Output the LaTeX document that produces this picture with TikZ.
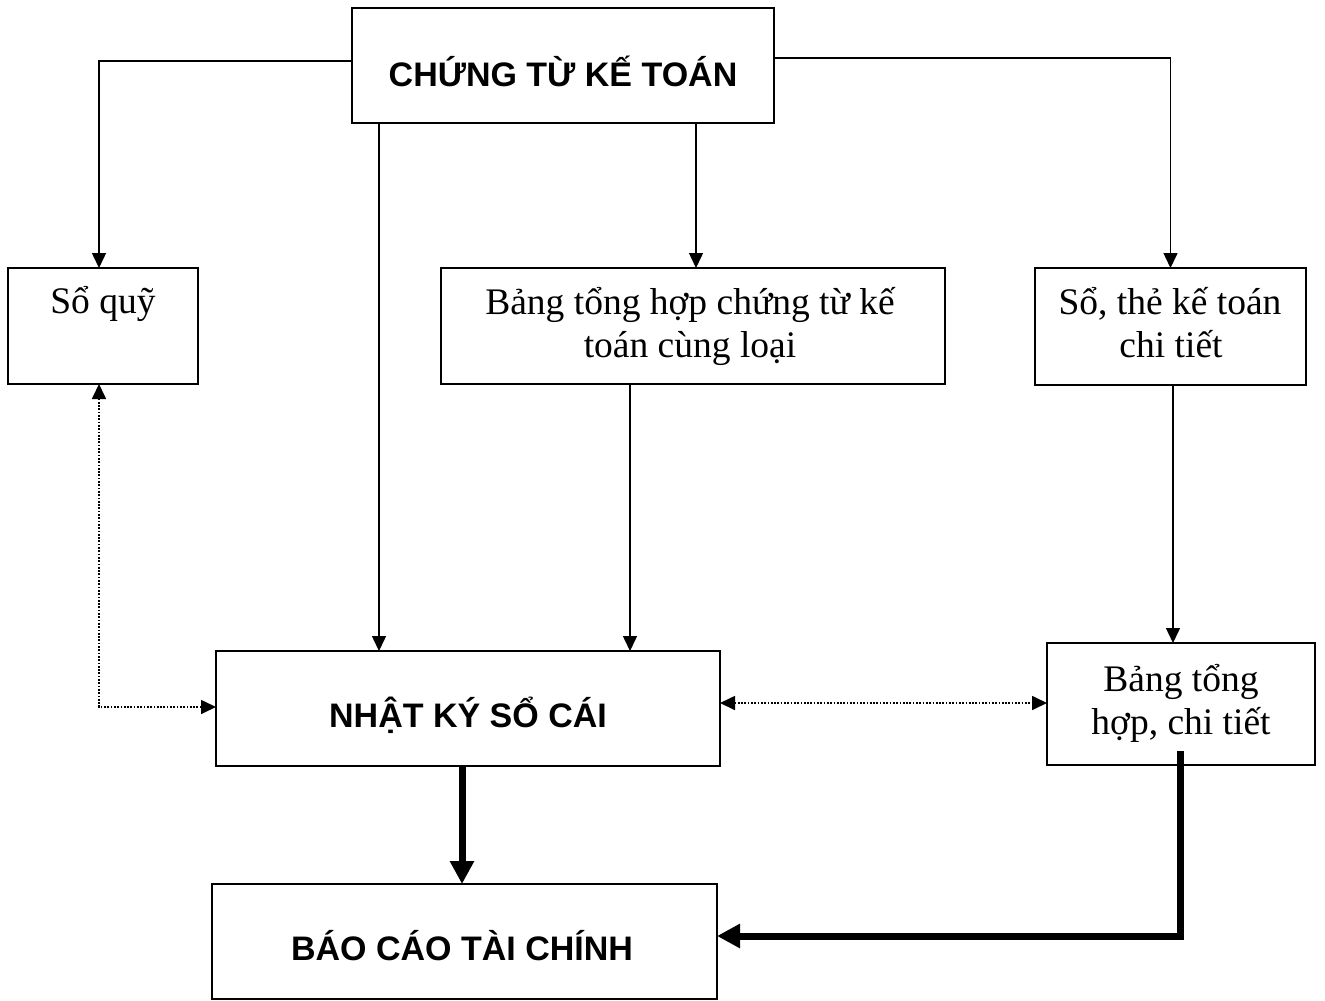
\documentclass[tikz,border=0pt]{standalone}
\usepackage{fontspec}
\setmainfont{Liberation Serif}
\setsansfont{Liberation Sans}
\usetikzlibrary{arrows.meta,calc}
\begin{document}
\begin{tikzpicture}[x=1pt,y=-1pt,
  box/.style={draw, line width=1.5pt, inner sep=0pt, outer sep=0pt},
  serif/.style={font=\fontsize{37.5}{43}\selectfont, anchor=base, inner sep=0pt},
  heading/.style={font=\sffamily\bfseries\fontsize{34}{40}\selectfont, anchor=base, inner sep=0pt},
  flow/.style={line width=1.5pt, -{Triangle[length=15pt,width=14pt]}},
  link/.style={line width=1.7pt, dash pattern=on 1.7pt off 1.6pt,
    {Triangle[length=15pt,width=14pt]}-{Triangle[length=15pt,width=14pt]}},
  heavy/.style={line width=7pt, -{Triangle[length=23pt,width=23pt]}},
]
\useasboundingbox[fill=white] (0,0) rectangle (1325,1001);

% boxes
\node[box, minimum width=422pt, minimum height=115pt] (ctkt)   at (563,65.5)   {};
\node[box, minimum width=190pt, minimum height=116pt] (soquy)  at (103,326)    {};
\node[box, minimum width=504pt, minimum height=116pt] (bthct)  at (693,326)    {};
\node[box, minimum width=271pt, minimum height=117pt] (sothe)  at (1170.5,326.5) {};
\node[box, minimum width=504pt, minimum height=115pt] (nksc)   at (468,708.5)  {};
\node[box, minimum width=268pt, minimum height=122pt] (bthchi) at (1181,704)   {};
\node[box, minimum width=505pt, minimum height=115pt] (bctc)   at (464.5,941.5) {};

% labels
\node[heading] (t-ctkt)   at (563,86)   {CHỨNG TỪ KẾ TOÁN};
\node[serif]   (t-soquy)  at (103,313)  {Sổ quỹ};
\node[serif]   (t-bthct-a) at (690,314) {Bảng tổng hợp chứng từ kế};
\node[serif]   (t-bthct-b) at (690,357) {toán cùng loại};
\node[serif]   (t-sothe-a) at (1170,314) {Sổ, thẻ kế toán};
\node[serif]   (t-sothe-b) at (1171,357) {chi tiết};
\node[heading] (t-nksc)   at (468,727)  {NHẬT KÝ SỔ CÁI};
\node[serif]   (t-bthchi-a) at (1181,691) {Bảng tổng};
\node[serif]   (t-bthchi-b) at (1181,734) {hợp, chi tiết};
\node[heading] (t-bctc)   at (462,960)  {BÁO CÁO TÀI CHÍNH};

% guide positions for the connectors
\coordinate (xq) at (99,0);
\coordinate (xa) at (379,0);
\coordinate (xb) at (696,0);
\coordinate (xc) at (630,0);
\coordinate (xd) at (1173,0);
\coordinate (xe) at (462,0);
\coordinate (xf) at (1180,0);
\coordinate (ya) at (0,61);
\coordinate (yb) at (0,58);
\coordinate (yc) at (0,707);
\coordinate (yd) at (0,703);
\coordinate (ye) at (0,936);
\coordinate (hstart) at ($(bthchi.south -| xf)+(0,-14)$);

% thin flows
\draw[flow] (ctkt.west |- ya) -| (soquy.north -| xq);
\draw[flow] (ctkt.east |- yb) -| (sothe.north);
\draw[flow] (ctkt.south -| xa) -- (nksc.north -| xa);
\draw[flow] (ctkt.south -| xb) -- (bthct.north -| xb);
\draw[flow] (bthct.south -| xc) -- (nksc.north -| xc);
\draw[flow] (sothe.south -| xd) -- (bthchi.north -| xd);

% dotted cross-checks
\draw[link] (soquy.south -| xq) |- (nksc.west |- yc);
\draw[link] (nksc.east |- yd) -- (bthchi.west |- yd);

% heavy flows into the report
\draw[heavy] (nksc.south -| xe) -- (bctc.north -| xe);
\draw[heavy] (hstart) |- (bctc.east |- ye);
\end{tikzpicture}
\end{document}
